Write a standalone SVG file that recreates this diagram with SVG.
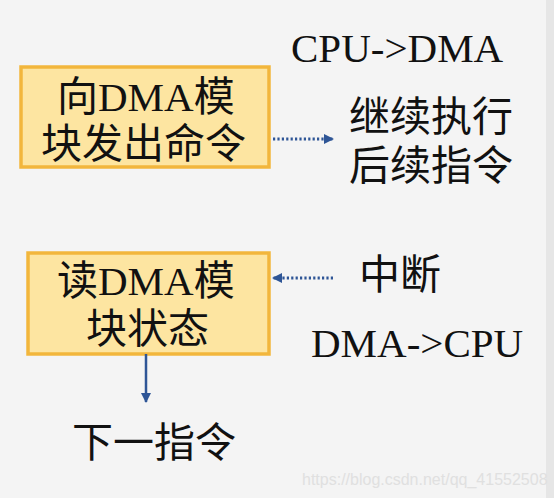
<svg xmlns="http://www.w3.org/2000/svg" width="554" height="498" viewBox="0 0 554 498">
<style>
.t{font-family:"Liberation Serif","Noto Sans CJK SC",serif;font-size:41px;fill:#111}
.box{fill:#FDE5A1;stroke:#F2B63C;stroke-width:3.5}
.dot{stroke:#2E5596;stroke-width:3;stroke-dasharray:2.2 2.2;fill:none}
.sol{stroke:#2E5596;stroke-width:2.5;fill:none}
.wm{font-family:"Liberation Sans",Arial,sans-serif;font-size:16px;fill:#e0e0e0}
</style>
<defs>
<marker id="ah" viewBox="0 0 10 10" refX="9" refY="5" markerWidth="10" markerHeight="10" markerUnits="userSpaceOnUse" orient="auto">
<path d="M0,0 L10,5 L0,10 Z" fill="#2E5596"/>
</marker>
</defs>
<rect width="554" height="498" fill="#f4f4f4"/>
<rect x="546" width="8" height="498" fill="#e6e6e6"/>
<g id="n1">
<rect class="box" x="21" y="67" width="248" height="100"/>
<text class="t" x="57" y="111">向DMA模</text>
<text class="t" x="41" y="158">块发出命令</text>
</g>
<g id="n2">
<rect class="box" x="28" y="253" width="241" height="101"/>
<text class="t" x="57" y="295">读DMA模</text>
<text class="t" x="86" y="343">块状态</text>
</g>
<g id="l1">
<text class="t" x="291" y="62">CPU-&gt;DMA</text>
<text class="t" x="349" y="131">继续执行</text>
<text class="t" x="349" y="180">后续指令</text>
</g>
<g id="l2">
<text class="t" x="359" y="289">中断</text>
<text class="t" x="311" y="357">DMA-&gt;CPU</text>
</g>
<g id="n3">
<text class="t" x="72" y="457">下一指令</text>
</g>
<g id="edges">
<line class="dot" x1="273" y1="139" x2="333" y2="139" marker-end="url(#ah)"/>
<line class="dot" x1="333" y1="278" x2="273" y2="278" marker-end="url(#ah)"/>
<line class="sol" x1="146" y1="354" x2="146" y2="402" marker-end="url(#ah)"/>
</g>
<text class="wm" x="302" y="485">https://blog.csdn.net/qq_41552508</text>
</svg>
